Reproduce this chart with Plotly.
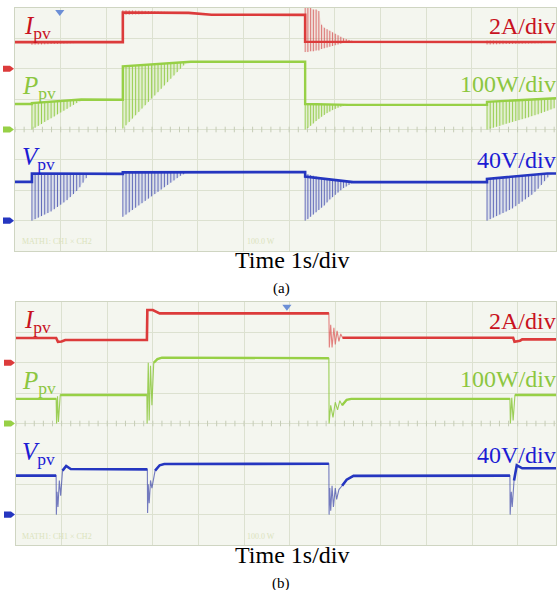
import numpy as np
import plotly.graph_objects as go

# ---------------------------------------------------------------
# Oscilloscope captures of a PV string under MPPT (1 s/div)
# Channels: Ipv 2 A/div (ground +2 div), Ppv 100 W/div (ground 0),
#           Vpv 40 V/div (ground -3 div). Screen: 8 vertical div.
# ---------------------------------------------------------------
T_END = 11.84  # visible horizontal span in divisions (seconds)

I_SCALE, I_GND = 2, 2      # A/div, ground position (div)
P_SCALE, P_GND = 100, 0    # W/div
V_SCALE, V_GND = 40, -3    # V/div

# ---------- capture (a): steady traces ----------
ipv_a_t = [0, 2.36, 2.36, 3.80, 4.30, 6.35, 6.35, 11.84]
ipv_a_v = [1.75, 1.75, 3.70, 3.68, 3.56, 3.55, 1.78, 1.76]
ppv_a_t = [0, 0.37, 0.37, 1.45, 2.36, 2.36, 3.85, 6.35, 6.35, 7.30, 10.33, 10.33, 11.84]
ppv_a_v = [84, 84, 87, 99, 98, 208, 223, 223, 84, 81, 81, 91, 103]
vpv_a_t = [0, 0.37, 0.37, 1.64, 2.36, 2.36, 3.80, 6.35, 6.35, 7.40, 10.33, 10.33, 11.65, 11.84]
vpv_a_v = [51, 51, 62, 61.5, 61.5, 63.5, 64, 64, 58, 50.7, 50.7, 55, 62, 62]

# ---------- capture (a): perturbation bursts (per-sample extremes) ----------
c1_t = [0.37, 0.44, 0.51, 0.58, 0.65, 0.72, 0.79, 0.86, 0.93, 1.00, 1.07, 1.14, 1.21, 1.28, 1.35, 1.42, 1.49, 1.56]
c1_p_hi = [87, 88, 88, 89, 90, 91, 91, 92, 93, 94, 94, 95, 96, 97, 97, 98, 99, 99]
c1_p_lo = [0, 6, 12, 18, 25, 31, 37, 43, 50, 56, 62, 68, 75, 81, 87, 93, 97, 98]
c1_v_hi = [62, 62, 62, 62, 62, 62, 62, 62, 62, 62, 62, 62, 62, 62, 61.5, 61.5, 61.5, 61.5]
c1_v_lo = [0, 2, 4, 6, 8, 10, 12, 15, 18, 21, 24, 27, 31, 35, 39, 44, 50, 56]
c1_i_hi = [1.80, 1.80, 1.80, 1.80, 1.79, 1.79, 1.79, 1.78, 1.78, 1.78, 1.77, 1.77, 1.77, 1.76, 1.76, 1.76, 1.76, 1.75]
c1_i_lo = [1.58, 1.59, 1.60, 1.60, 1.61, 1.62, 1.63, 1.63, 1.64, 1.65, 1.66, 1.67, 1.68, 1.69, 1.70, 1.71, 1.72, 1.73]

c2_t = [2.36, 2.43, 2.50, 2.57, 2.64, 2.71, 2.78, 2.85, 2.92, 2.99, 3.06, 3.13, 3.20, 3.27, 3.34, 3.41, 3.48, 3.55, 3.62, 3.69, 3.76, 3.83]
c2_p_hi = [209, 210, 210, 211, 212, 212, 213, 214, 214, 215, 216, 216, 217, 218, 218, 219, 220, 220, 221, 222, 222, 223]
c2_p_lo = [3, 14, 25, 36, 47, 58, 69, 80, 91, 102, 112, 123, 134, 145, 156, 167, 178, 189, 200, 211, 219, 222]
c2_v_hi = [63, 63, 63, 63, 63, 63, 63.5, 63.5, 63.5, 63.5, 63.5, 63.5, 63.5, 63.5, 64, 64, 64, 64, 64, 64, 64, 64]
c2_v_lo = [5, 8, 11, 14, 17, 20, 23, 26, 29, 32, 35, 38, 41, 44, 47, 50, 53, 56, 59, 61, 63, 64]
c2_i_hi = [3.85, 3.85, 3.84, 3.84, 3.83, 3.82, 3.82, 3.81, 3.80, 3.79, 3.78, 3.77, 3.76, 3.75, 3.74, 3.73, 3.72, 3.71, 3.70, 3.70, 3.69, 3.69]
c2_i_lo = [3.55, 3.56, 3.56, 3.57, 3.58, 3.58, 3.59, 3.60, 3.60, 3.61, 3.62, 3.62, 3.63, 3.64, 3.64, 3.65, 3.66, 3.66, 3.67, 3.68, 3.68, 3.68]

c3_t = [6.35, 6.41, 6.47, 6.53, 6.59, 6.65, 6.71, 6.77, 6.83, 6.89, 6.95, 7.01, 7.07, 7.13, 7.19, 7.25, 7.31, 7.37]
c3_p_hi = [86, 86, 86, 85, 85, 85, 85, 84, 84, 84, 84, 83, 83, 83, 82, 82, 82, 81]
c3_p_lo = [0, 5, 12, 20, 28, 35, 42, 48, 54, 59, 64, 68, 72, 75, 78, 80, 81, 81]
c3_v_hi = [62, 61, 60, 59, 58, 57, 56, 55, 55, 54, 54, 53, 53, 52, 52, 51, 51, 51]
c3_v_lo = [0, 2, 5, 8, 11, 14, 17, 20, 24, 28, 31, 34, 37, 40, 43, 45, 47, 49]
c3_i_hi = [4.0, 4.0, 4.0, 3.9, 3.9, 3.8, 2.9, 2.7, 2.6, 2.5, 2.4, 2.3, 2.2, 2.1, 2.0, 1.95, 1.9, 1.85]
c3_i_lo = [1.1, 1.1, 1.15, 1.15, 1.2, 1.2, 1.3, 1.35, 1.4, 1.45, 1.5, 1.55, 1.6, 1.65, 1.7, 1.7, 1.75, 1.75]

c4_t = [10.33, 10.40, 10.47, 10.54, 10.61, 10.68, 10.75, 10.82, 10.89, 10.96, 11.03, 11.10, 11.17, 11.24, 11.31, 11.38, 11.45, 11.52, 11.59, 11.66, 11.73, 11.80]
c4_p_hi = [91, 91, 92, 92, 93, 93, 94, 94, 95, 95, 96, 96, 97, 97, 98, 99, 99, 100, 101, 101, 102, 103]
c4_p_lo = [0, 3, 6, 9, 12, 16, 19, 22, 25, 28, 31, 34, 37, 40, 44, 47, 50, 54, 58, 62, 66, 70]
c4_v_hi = [55, 55, 56, 56, 56, 57, 57, 57, 58, 58, 58, 59, 59, 59, 60, 60, 60, 61, 61, 62, 62, 62]
c4_v_lo = [0, 2, 4, 6, 8, 10, 12, 14, 16, 19, 22, 25, 28, 31, 34, 38, 42, 47, 52, 57, 61, 62]
c4_i_hi = [1.85, 1.85, 1.85, 1.84, 1.84, 1.84, 1.83, 1.83, 1.83, 1.82, 1.82, 1.82, 1.81, 1.81, 1.81, 1.80, 1.80, 1.80, 1.79, 1.79, 1.79, 1.78]
c4_i_lo = [1.60, 1.60, 1.61, 1.61, 1.62, 1.62, 1.63, 1.63, 1.64, 1.64, 1.65, 1.65, 1.66, 1.66, 1.67, 1.67, 1.68, 1.68, 1.69, 1.70, 1.71, 1.72]

# ---------- capture (b): full traces ----------
ipv_b_t = [0, 0.88, 0.92, 1.00, 1.08, 2.87, 2.88, 3.00, 3.15, 6.86, 6.87, 6.90, 6.93, 6.97, 7.00, 7.04, 7.08, 7.12, 7.16, 10.90, 10.93, 11.05, 11.10, 11.84]
ipv_b_v = [1.63, 1.63, 1.38, 1.40, 1.50, 1.50, 3.47, 3.47, 3.25, 3.25, 1.0, 2.5, 1.0, 2.3, 1.2, 2.1, 1.4, 1.9, 1.65, 1.65, 1.38, 1.45, 1.54, 1.54]
ppv_b_t = [0, 0.88, 0.89, 0.91, 0.93, 0.95, 0.97, 2.87, 2.875, 2.90, 2.92, 2.95, 2.98, 3.02, 3.10, 3.20, 6.86, 6.865, 6.90, 6.95, 7.00, 7.05, 7.10, 7.15, 7.25, 7.35, 10.83, 10.84, 10.87, 10.90, 10.94, 11.84]
ppv_b_v = [81, 81, 0, 90, 5, 75, 94, 94, 0, 200, 10, 190, 60, 200, 212, 217, 215, 0, 60, 20, 70, 45, 75, 60, 78, 81, 81, 0, 85, 10, 94, 94]
vpv_b_t = [0, 0.88, 0.885, 0.90, 0.92, 0.95, 0.98, 1.02, 1.10, 1.20, 2.88, 2.885, 2.90, 2.92, 2.95, 2.98, 3.05, 3.15, 3.25, 6.86, 6.865, 6.88, 6.90, 6.93, 6.96, 7.00, 7.03, 7.08, 7.15, 7.25, 7.40, 10.83, 10.835, 10.86, 10.88, 10.92, 10.98, 11.10, 11.84]
vpv_b_v = [51.3, 51.3, 0, 30, 10, 45, 25, 58, 64, 60, 59.6, 2, 40, 15, 45, 35, 58, 65, 66.7, 67, 0, 35, 5, 38, 10, 35, 20, 33, 38, 46, 51, 51.3, 0, 30, 10, 45, 65, 61, 61]

# fast transient windows (s) drawn as thin, faint strokes
ipv_b_fast = [(6.86, 7.16)]
ppv_b_fast = [(0.88, 0.97), (2.87, 3.02), (6.86, 7.15), (10.83, 10.94)]
vpv_b_fast = [(0.88, 1.02), (2.88, 3.05), (6.86, 7.15), (10.83, 10.92)]

# ---------- styling ----------
RED, GREEN, BLUE = "#dc3b3b", "#97d046", "#2536c0"
RED_T, GREEN_T, BLUE_T = "#c8121e", "#8cc63f", "#1c1cd4"
SCREEN, GRID = "#f4f6ef", "#dce1d0"
FONT = "Liberation Serif, Times New Roman, serif"
W, H = 559, 590

fig = go.Figure()


def px_x(p):
    return p / W


def px_y(p):
    return 1 - p / H


def add_line(t, v, xa, ya, color, width):
    fig.add_trace(go.Scatter(x=t, y=v, mode="lines", xaxis=xa, yaxis=ya,
                             line=dict(color=color, width=width),
                             hoverinfo="skip"))


def add_trace_with_fast(t, v, windows, xa, ya, color, faint, width):
    # whole record as a thin faint stroke, steady parts drawn heavy
    add_line(t, v, xa, ya, faint, 1.1)
    xs, ys = [], []
    for ti, vi in zip(t, v):
        if any(a < ti < b for a, b in windows):
            if xs and xs[-1] is not None:
                xs.append(None)
                ys.append(None)
            continue
        xs.append(ti)
        ys.append(vi)
    add_line(xs, ys, xa, ya, color, width)


def add_burst(t, hi, lo, xa, ya, color, band):
    # faint band between the extremes plus one stroke per sample
    fig.add_trace(go.Scatter(x=list(t) + list(t)[::-1], y=list(hi) + list(lo)[::-1],
                             mode="lines", fill="toself", fillcolor=band,
                             line=dict(width=0), xaxis=xa, yaxis=ya, hoverinfo="skip"))
    xs, ys = [], []
    for ti, h, l in zip(t, hi, lo):
        xs += [ti, ti, None]
        ys += [h, l, None]
    fig.add_trace(go.Scatter(x=xs, y=ys, mode="lines", xaxis=xa, yaxis=ya,
                             line=dict(color=color, width=1), hoverinfo="skip"))


# graticule centre line ticks
ticks_x = np.arange(0, T_END, 0.2)
for xa, ya in (("x", "y"), ("x2", "y2")):
    fig.add_trace(go.Scatter(x=ticks_x, y=np.zeros_like(ticks_x), mode="markers",
                             xaxis=xa, yaxis=ya,
                             marker=dict(symbol="line-ns", size=4,
                                         line=dict(color="#c5ccb6", width=1)),
                             hoverinfo="skip"))

# ---- capture (a) ----
bursts_a = [
    (c1_t, c1_p_hi, c1_p_lo, c1_v_hi, c1_v_lo, c1_i_hi, c1_i_lo),
    (c2_t, c2_p_hi, c2_p_lo, c2_v_hi, c2_v_lo, c2_i_hi, c2_i_lo),
    (c3_t, c3_p_hi, c3_p_lo, c3_v_hi, c3_v_lo, c3_i_hi, c3_i_lo),
    (c4_t, c4_p_hi, c4_p_lo, c4_v_hi, c4_v_lo, c4_i_hi, c4_i_lo),
]
for t, ph, pl, vh, vl, ih, il in bursts_a:
    add_burst(t, ph, pl, "x", "y4", "rgba(140,200,60,0.85)", "rgba(150,210,80,0.18)")
    add_burst(t, vh, vl, "x", "y5", "rgba(60,70,170,0.75)", "rgba(90,110,210,0.15)")
    add_burst(t, ih, il, "x", "y3", "rgba(210,70,70,0.7)", "rgba(230,120,120,0.15)")

add_line(ipv_a_t, ipv_a_v, "x", "y3", RED, 2.6)
add_line(ppv_a_t, ppv_a_v, "x", "y4", GREEN, 2.4)
add_line(vpv_a_t, vpv_a_v, "x", "y5", BLUE, 2.6)

# ---- capture (b) ----
add_trace_with_fast(ipv_b_t, ipv_b_v, ipv_b_fast, "x2", "y6", RED, "rgba(220,80,80,0.7)", 2.6)
add_trace_with_fast(ppv_b_t, ppv_b_v, ppv_b_fast, "x2", "y7", GREEN, "rgba(140,200,60,0.85)", 2.4)
add_trace_with_fast(vpv_b_t, vpv_b_v, vpv_b_fast, "x2", "y8", BLUE, "rgba(60,70,170,0.7)", 2.6)

# trigger markers on the top edge
fig.add_trace(go.Scatter(x=[0.98], y=[3.87], mode="markers", xaxis="x", yaxis="y",
                         marker=dict(symbol="triangle-down", size=8, color="#6c8fd6"),
                         hoverinfo="skip"))
fig.add_trace(go.Scatter(x=[5.94], y=[3.84], mode="markers", xaxis="x2", yaxis="y2",
                         marker=dict(symbol="triangle-down", size=8, color="#6c8fd6"),
                         hoverinfo="skip"))

# ---- axes ----
grid_axis = dict(range=[0, T_END], dtick=1, tick0=0, showgrid=True, gridcolor=GRID,
                 gridwidth=1, zeroline=False, showticklabels=False, ticks="",
                 showline=True, linecolor="#cfd5c2", mirror=True)
grid_yaxis = dict(range=[-4, 4], dtick=1, tick0=0, showgrid=True, gridcolor=GRID,
                  gridwidth=1, zeroline=False, showticklabels=False, ticks="",
                  showline=True, linecolor="#cfd5c2", mirror=True)
hidden = dict(visible=False, showgrid=False, zeroline=False)


def chan_range(scale, gnd):
    return [(-4 - gnd) * scale, (4 - gnd) * scale]


fig.update_layout(
    width=W, height=H, margin=dict(l=0, r=0, t=0, b=0),
    paper_bgcolor="white", plot_bgcolor=SCREEN, showlegend=False,
    xaxis=dict(grid_axis, domain=[px_x(15), px_x(556)], anchor="y"),
    yaxis=dict(grid_yaxis, domain=[px_y(251), px_y(8)], anchor="x"),
    xaxis2=dict(grid_axis, domain=[px_x(16), px_x(556)], anchor="y2"),
    yaxis2=dict(grid_yaxis, domain=[px_y(545), px_y(302)], anchor="x2"),
    yaxis3=dict(hidden, overlaying="y", anchor="x", range=chan_range(I_SCALE, I_GND)),
    yaxis4=dict(hidden, overlaying="y", anchor="x", range=chan_range(P_SCALE, P_GND)),
    yaxis5=dict(hidden, overlaying="y", anchor="x", range=chan_range(V_SCALE, V_GND)),
    yaxis6=dict(hidden, overlaying="y2", anchor="x2", range=chan_range(I_SCALE, I_GND)),
    yaxis7=dict(hidden, overlaying="y2", anchor="x2", range=chan_range(P_SCALE, P_GND)),
    yaxis8=dict(hidden, overlaying="y2", anchor="x2", range=chan_range(V_SCALE, V_GND)),
)

# ground reference tags left of each screen (at each channel's 0 level)
for x_left, axes in ((15, ("y3", "y4", "y5")), (16, ("y6", "y7", "y8"))):
    for ya, scale, col in zip(axes, (I_SCALE, P_SCALE, V_SCALE), (RED, GREEN, BLUE)):
        h = 0.1 * scale
        x0, x1, x2 = px_x(x_left - 12), px_x(x_left - 5), px_x(x_left - 1)
        fig.add_shape(type="path", xref="paper", yref=ya, layer="above",
                      path=f"M {x0},{-h} L {x1},{-h} L {x2},0 L {x1},{h} L {x0},{h} Z",
                      fillcolor=col, line=dict(width=0))


# ---- labels ----
def label(text, x, y, color, size, anchor="left"):
    fig.add_annotation(text=text, x=px_x(x), y=px_y(y), xref="paper", yref="paper",
                       xanchor=anchor, yanchor="middle", showarrow=False,
                       font=dict(family=FONT, size=size, color=color))


for dy, cap in ((0, "(a)"), (295, "(b)")):
    label("<i>I</i><sub>pv</sub>", 22, 27 + dy, RED_T, 25)
    label("<i>P</i><sub>pv</sub>", 20, 87 + dy, GREEN_T, 25)
    label("<i>V</i><sub>pv</sub>", 20, 158 + dy, BLUE_T, 25)
    label("2A/div", 558, 26 + dy, RED_T, 24, "right")
    label("100W/div", 558, 84 + dy, GREEN_T, 24, "right")
    label("40V/div", 558, 160 + dy, BLUE_T, 24, "right")
    label("Time 1s/div", 292, 260 + dy, "black", 24, "center")
    label(cap, 281, 288 + dy, "black", 15, "center")
    label("MATH1: CH1 × CH2", 20, 241 + dy, "#dbe3bd", 8)
    label("100.0 W", 245, 241 + dy, "#dbe3bd", 8)

fig.write_html("out.html")
